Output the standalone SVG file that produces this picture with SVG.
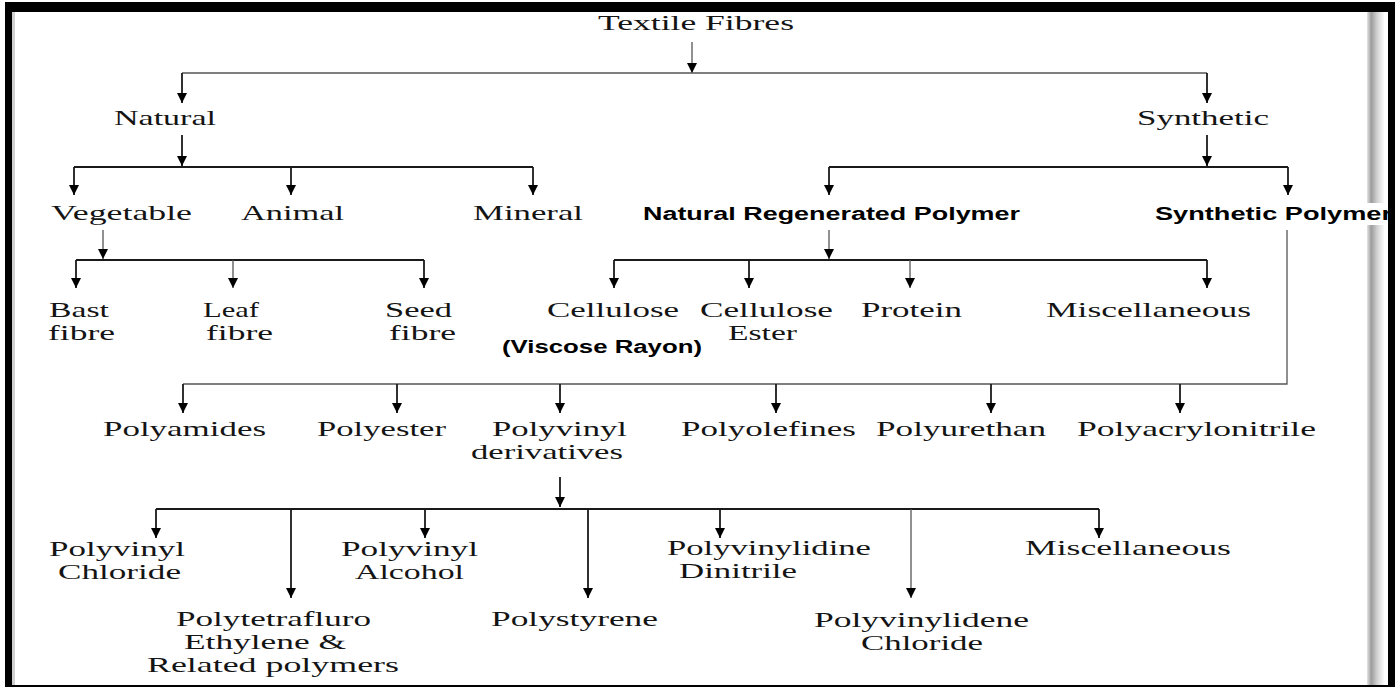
<svg xmlns="http://www.w3.org/2000/svg" width="1400" height="689" viewBox="0 0 1400 689">
<defs>
<style>
.t{font-family:"Liberation Serif","Times New Roman",serif;font-size:22px;fill:#141414}
.b{font-family:"Liberation Sans",Arial,sans-serif;font-weight:bold;font-size:18px;fill:#000}
.c{fill:none;stroke:#1a1a1a;stroke-width:1.8}
.c2{fill:none;stroke:#555;stroke-width:1.3}
</style>
<marker id="ah" viewBox="0 0 10 10" refX="10" refY="5" markerWidth="10" markerHeight="10" markerUnits="userSpaceOnUse" orient="auto">
<path d="M0,0 L10,5 L0,10 z" fill="#000"/>
</marker>
<linearGradient id="sh" x1="0" y1="0" x2="1" y2="0">
<stop offset="0" stop-color="#e4e4e4"/>
<stop offset="0.25" stop-color="#9c9c9c"/>
<stop offset="0.6" stop-color="#d2d2d2"/>
<stop offset="1" stop-color="#fafafa"/>
</linearGradient>
</defs>
<rect width="1400" height="689" fill="#fff"/>
<rect x="12" y="12" width="3" height="674" fill="#d0d0d0"/>
<rect x="1367" y="12" width="17" height="191" fill="url(#sh)"/>
<rect x="1367" y="225" width="17" height="461" fill="url(#sh)"/>

<g id="connectors">
<path class="c2" d="M692,42 V73" marker-end="url(#ah)"/>
<path class="c2" d="M182,73 H1207"/>
<path class="c" d="M182,73 V103" marker-end="url(#ah)"/>
<path class="c" d="M1207,73 V103" marker-end="url(#ah)"/>
<path class="c" d="M182,135 V166" marker-end="url(#ah)"/>
<path class="c" d="M74,167 H533"/>
<path class="c" d="M74,167 V195" marker-end="url(#ah)"/>
<path class="c" d="M291,167 V195" marker-end="url(#ah)"/>
<path class="c" d="M533,167 V195" marker-end="url(#ah)"/>
<path class="c" d="M1207,135 V166" marker-end="url(#ah)"/>
<path class="c" d="M829,167 H1288"/>
<path class="c" d="M829,167 V195" marker-end="url(#ah)"/>
<path class="c" d="M1288,167 V195" marker-end="url(#ah)"/>
<path class="c2" d="M103,230 V259" marker-end="url(#ah)"/>
<path class="c" d="M76,260 H424"/>
<path class="c" d="M76,260 V288" marker-end="url(#ah)"/>
<path class="c2" d="M233,260 V288" marker-end="url(#ah)"/>
<path class="c" d="M424,260 V288" marker-end="url(#ah)"/>
<path class="c2" d="M829,230 V259" marker-end="url(#ah)"/>
<path class="c" d="M614,260 H1207"/>
<path class="c" d="M614,260 V288" marker-end="url(#ah)"/>
<path class="c" d="M749,260 V288" marker-end="url(#ah)"/>
<path class="c2" d="M910,260 V288" marker-end="url(#ah)"/>
<path class="c" d="M1207,260 V288" marker-end="url(#ah)"/>
<path class="c2" d="M1287,230 V384 H183"/>
<path class="c" d="M183,384 V413" marker-end="url(#ah)"/>
<path class="c" d="M397,384 V413" marker-end="url(#ah)"/>
<path class="c" d="M560,384 V413" marker-end="url(#ah)"/>
<path class="c" d="M776,384 V413" marker-end="url(#ah)"/>
<path class="c" d="M991,384 V413" marker-end="url(#ah)"/>
<path class="c" d="M1180,384 V413" marker-end="url(#ah)"/>
<path class="c" d="M560,477 V507" marker-end="url(#ah)"/>
<path class="c" d="M156,509 H1099"/>
<path class="c" d="M156,509 V538" marker-end="url(#ah)"/>
<path class="c" d="M291,509 V598" marker-end="url(#ah)"/>
<path class="c" d="M425,509 V538" marker-end="url(#ah)"/>
<path class="c" d="M588,509 V598" marker-end="url(#ah)"/>
<path class="c" d="M720,509 V538" marker-end="url(#ah)"/>
<path class="c2" d="M911,509 V598" marker-end="url(#ah)"/>
<path class="c" d="M1099,509 V538" marker-end="url(#ah)"/>
</g>

<g id="textile-fibres"><text class="t" x="598" y="30" textLength="196" lengthAdjust="spacingAndGlyphs">Textile Fibres</text></g>
<g id="natural"><text class="t" x="114" y="125" textLength="102" lengthAdjust="spacingAndGlyphs">Natural</text></g>
<g id="synthetic"><text class="t" x="1137" y="125" textLength="132" lengthAdjust="spacingAndGlyphs">Synthetic</text></g>
<g id="vegetable"><text class="t" x="51" y="220" textLength="141" lengthAdjust="spacingAndGlyphs">Vegetable</text></g>
<g id="animal"><text class="t" x="241" y="220" textLength="103" lengthAdjust="spacingAndGlyphs">Animal</text></g>
<g id="mineral"><text class="t" x="473" y="220" textLength="110" lengthAdjust="spacingAndGlyphs">Mineral</text></g>
<g id="natural-regenerated-polymer"><text class="b" x="643" y="220" textLength="377" lengthAdjust="spacingAndGlyphs">Natural Regenerated Polymer</text></g>
<g id="bast-fibre"><text class="t" x="49" y="317" textLength="60" lengthAdjust="spacingAndGlyphs">Bast</text><text class="t" x="48" y="340" textLength="67" lengthAdjust="spacingAndGlyphs">fibre</text></g>
<g id="leaf-fibre"><text class="t" x="203" y="317" textLength="56" lengthAdjust="spacingAndGlyphs">Leaf</text><text class="t" x="206" y="340" textLength="67" lengthAdjust="spacingAndGlyphs">fibre</text></g>
<g id="seed-fibre"><text class="t" x="385" y="317" textLength="67" lengthAdjust="spacingAndGlyphs">Seed</text><text class="t" x="389" y="340" textLength="67" lengthAdjust="spacingAndGlyphs">fibre</text></g>
<g id="cellulose"><text class="t" x="547" y="317" textLength="132" lengthAdjust="spacingAndGlyphs">Cellulose</text><text class="b" x="502" y="353" textLength="200" lengthAdjust="spacingAndGlyphs">(Viscose Rayon)</text></g>
<g id="cellulose-ester"><text class="t" x="700" y="317" textLength="133" lengthAdjust="spacingAndGlyphs">Cellulose</text><text class="t" x="728" y="340" textLength="69" lengthAdjust="spacingAndGlyphs">Ester</text></g>
<g id="protein"><text class="t" x="861" y="317" textLength="101" lengthAdjust="spacingAndGlyphs">Protein</text></g>
<g id="miscellaneous-1"><text class="t" x="1046" y="317" textLength="205" lengthAdjust="spacingAndGlyphs">Miscellaneous</text></g>
<g id="polyamides"><text class="t" x="103" y="436" textLength="163" lengthAdjust="spacingAndGlyphs">Polyamides</text></g>
<g id="polyester"><text class="t" x="317" y="436" textLength="129" lengthAdjust="spacingAndGlyphs">Polyester</text></g>
<g id="polyvinyl-derivatives"><text class="t" x="492" y="436" textLength="135" lengthAdjust="spacingAndGlyphs">Polyvinyl</text><text class="t" x="471" y="459" textLength="152" lengthAdjust="spacingAndGlyphs">derivatives</text></g>
<g id="polyolefines"><text class="t" x="681" y="436" textLength="175" lengthAdjust="spacingAndGlyphs">Polyolefines</text></g>
<g id="polyurethan"><text class="t" x="876" y="436" textLength="170" lengthAdjust="spacingAndGlyphs">Polyurethan</text></g>
<g id="polyacrylonitrile"><text class="t" x="1077" y="436" textLength="239" lengthAdjust="spacingAndGlyphs">Polyacrylonitrile</text></g>
<g id="polyvinyl-chloride"><text class="t" x="49" y="556" textLength="136" lengthAdjust="spacingAndGlyphs">Polyvinyl</text><text class="t" x="58" y="579" textLength="123" lengthAdjust="spacingAndGlyphs">Chloride</text></g>
<g id="polytetrafluro"><text class="t" x="176" y="626" textLength="195" lengthAdjust="spacingAndGlyphs">Polytetrafluro</text><text class="t" x="184" y="649" textLength="162" lengthAdjust="spacingAndGlyphs">Ethylene &amp;</text><text class="t" x="147" y="672" textLength="252" lengthAdjust="spacingAndGlyphs">Related polymers</text></g>
<g id="polyvinyl-alcohol"><text class="t" x="341" y="556" textLength="137" lengthAdjust="spacingAndGlyphs">Polyvinyl</text><text class="t" x="355" y="579" textLength="109" lengthAdjust="spacingAndGlyphs">Alcohol</text></g>
<g id="polystyrene"><text class="t" x="491" y="626" textLength="167" lengthAdjust="spacingAndGlyphs">Polystyrene</text></g>
<g id="polyvinylidine-dinitrile"><text class="t" x="667" y="555" textLength="204" lengthAdjust="spacingAndGlyphs">Polyvinylidine</text><text class="t" x="679" y="578" textLength="118" lengthAdjust="spacingAndGlyphs">Dinitrile</text></g>
<g id="polyvinylidene-chloride"><text class="t" x="814" y="627" textLength="215" lengthAdjust="spacingAndGlyphs">Polyvinylidene</text><text class="t" x="861" y="650" textLength="122" lengthAdjust="spacingAndGlyphs">Chloride</text></g>
<g id="miscellaneous-2"><text class="t" x="1025" y="555" textLength="206" lengthAdjust="spacingAndGlyphs">Miscellaneous</text></g>
<g id="synthetic-polymer"><text class="b" x="1155" y="220" textLength="237" lengthAdjust="spacingAndGlyphs">Synthetic Polymer</text></g>

<g id="frame" fill="#000">
<rect x="5" y="2" width="1390" height="10"/>
<rect x="5" y="2" width="7" height="685"/>
<rect x="1388" y="2" width="7" height="685"/>
<rect x="5" y="685" width="1390" height="2"/>
</g>
</svg>
